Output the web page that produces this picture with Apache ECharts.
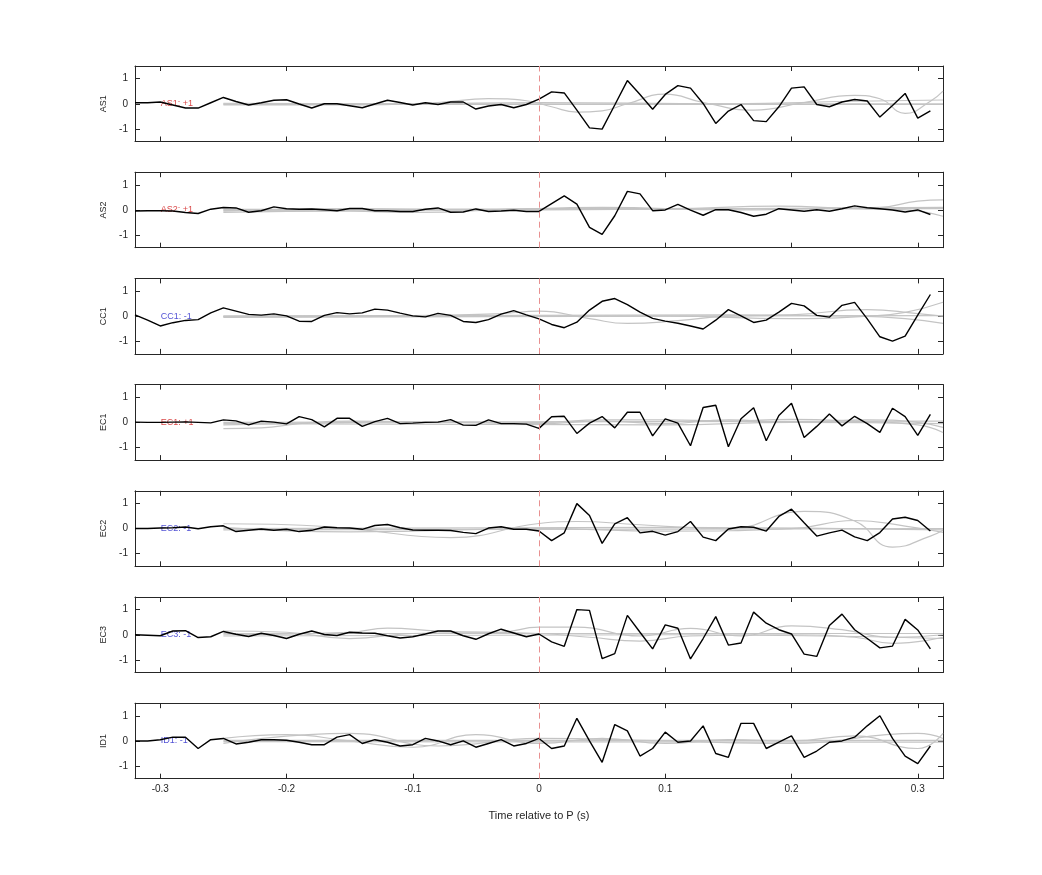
<!DOCTYPE html>
<html><head><meta charset="utf-8">
<script src="https://cdn.jsdelivr.net/npm/echarts@6/dist/echarts.min.js"></script>
<style>html,body{margin:0;padding:0;background:#fff}#c{width:1042px;height:875px}</style>
</head><body><div id="c"></div>
<script>
const times = [-0.32,-0.31,-0.30,-0.29,-0.28,-0.27,-0.26,-0.25,-0.24,-0.23,-0.22,-0.21,-0.20,-0.19,-0.18,-0.17,-0.16,-0.15,-0.14,-0.13,-0.12,-0.11,-0.10,-0.09,-0.08,-0.07,-0.06,-0.05,-0.04,-0.03,-0.02,-0.01,0,
  0.01,0.02,0.03,0.04,0.05,0.06,0.07,0.08,0.09,0.10,0.11,0.12,0.13,0.14,0.15,0.16,0.17,0.18,0.19,0.20,0.21,0.22,0.23,0.24,0.25,0.26,0.27,0.28,0.29,0.30,0.31];
const xTicks = [-0.3,-0.2,-0.1,0,0.1,0.2,0.3];
const yTicks = [-1,0,1];
const channelNames = ['AS1','AS2','CC1','EC1','EC2','EC3','ID1'];
const channelSigns = ['+1','+1','-1','+1','-1','-1','-1'];

const as1 = [0.04,0.04,0.07,-0.05,-0.17,-0.17,0.04,0.25,0.09,-0.05,0.04,0.14,0.16,-0.01,-0.17,0,0,-0.08,-0.16,-0.01,0.14,0.05,-0.05,0.04,-0.03,0.07,0.07,-0.21,-0.09,-0.03,-0.16,-0.03,0.18,
  0.47,0.43,-0.25,-0.96,-1.01,-0.05,0.92,0.37,-0.22,0.37,0.72,0.62,0.01,-0.78,-0.29,-0.03,-0.67,-0.71,-0.12,0.62,0.67,-0.03,-0.12,0.07,0.17,0.11,-0.53,-0.07,0.41,-0.57,-0.28];
const as2 = [-0.04,-0.03,-0.03,-0.04,-0.10,-0.14,0.03,0.10,0.08,-0.09,-0.03,0.12,0.05,0.03,0.04,0.01,-0.03,0.06,0.06,-0.03,-0.03,-0.06,-0.06,0.03,0.08,-0.09,-0.08,0.04,-0.06,-0.04,-0.01,-0.06,-0.06,
  0.25,0.56,0.23,-0.69,-0.97,-0.23,0.74,0.64,-0.03,0,0.22,-0.01,-0.21,0.01,0.01,-0.10,-0.25,-0.17,0.05,0,-0.05,0.01,-0.05,0.05,0.16,0.09,0.05,0,-0.08,0,-0.18];
const cc1 = [0.05,-0.16,-0.39,-0.26,-0.17,-0.14,0.13,0.33,0.2,0.07,0.04,0.09,0.01,-0.2,-0.21,0.03,0.14,0.09,0.13,0.28,0.24,0.12,0.01,-0.03,0.11,0.03,-0.21,-0.25,-0.14,0.08,0.22,0.05,-0.11,
  -0.33,-0.46,-0.24,0.24,0.59,0.70,0.46,0.16,-0.09,-0.2,-0.28,-0.39,-0.51,-0.16,0.26,0.01,-0.25,-0.16,0.16,0.51,0.41,0.03,-0.04,0.43,0.55,-0.11,-0.82,-0.99,-0.79,0.04,0.86];
const ec1 = [0.01,0,0,0.01,0.02,0,-0.02,0.1,0.06,-0.1,0.05,0.01,-0.06,0.23,0.11,-0.18,0.16,0.16,-0.16,0.03,0.16,-0.05,-0.03,0,0.01,0.11,-0.11,-0.12,0.1,-0.05,-0.05,-0.07,-0.24,
  0.22,0.24,-0.44,-0.03,0.23,-0.22,0.4,0.4,-0.54,0.14,-0.03,-0.93,0.59,0.68,-0.97,0.14,0.58,-0.73,0.27,0.76,-0.6,-0.16,0.33,-0.14,0.24,-0.05,-0.4,0.56,0.23,-0.52,0.32];
const ec2 = [0,0,0.02,0.03,0.06,-0.01,0.07,0.11,-0.12,-0.07,-0.02,-0.07,-0.03,-0.12,-0.07,0.06,0.03,0.02,-0.03,0.12,0.16,0.03,-0.06,-0.07,-0.07,-0.08,-0.15,-0.2,0.02,0.07,-0.03,-0.03,-0.1,
  -0.48,-0.17,0.99,0.52,-0.59,0.19,0.43,-0.17,-0.11,-0.26,-0.12,0.28,-0.34,-0.48,-0.02,0.07,0.05,-0.1,0.48,0.77,0.23,-0.3,-0.17,-0.06,-0.33,-0.48,-0.16,0.38,0.45,0.32,-0.1];
const ec3 = [0,-0.02,-0.04,0.15,0.16,-0.11,-0.08,0.13,0.02,-0.07,0.06,-0.03,-0.15,0.02,0.15,0.01,-0.03,0.1,0.07,0.06,-0.04,-0.13,-0.08,0.03,0.15,0.15,-0.04,-0.18,0.04,0.22,0.07,-0.08,0.03,
  -0.28,-0.46,1.0,0.97,-0.95,-0.75,0.77,0.1,-0.56,0.39,0.26,-0.96,-0.15,0.72,-0.41,-0.33,0.9,0.46,0.2,0.03,-0.77,-0.86,0.37,0.82,0.2,-0.15,-0.52,-0.45,0.61,0.19,-0.56];
const id1 = [0,0,0.05,0.15,0.15,-0.3,0.05,0.1,-0.12,-0.05,0.05,0.05,0.03,-0.05,-0.15,-0.15,0.15,0.25,-0.1,0.05,-0.05,-0.2,-0.15,0.1,0,-0.15,0,-0.25,-0.1,0.05,-0.2,-0.1,0.1,
  -0.3,-0.2,0.9,0.0,-0.85,0.65,0.4,-0.6,-0.3,0.35,-0.05,0,0.6,-0.5,-0.65,0.7,0.7,-0.3,-0.05,0.2,-0.65,-0.4,-0.05,0,0.15,0.6,1.0,0.1,-0.6,-0.9,-0.2];

// gray reference traces: [time, value] knots
const grayAS1 = [
  [[-0.25,-0.05],[-0.15,-0.05],[-0.08,0.05],[-0.04,0.2],[-0.01,0.12],[0.01,-0.12],[0.03,-0.33],[0.05,-0.28],[0.07,0.0],[0.10,0.38],[0.13,0.05],[0.17,-0.25],[0.21,0.05],[0.25,0.33],[0.27,0.2],[0.29,-0.38],[0.31,0.1],[0.32,0.5]],
  [[-0.25,-0.03],[0.32,-0.03]],
  [[-0.25,0.02],[-0.1,0.0],[0.0,0.05],[0.15,0.0],[0.25,0.1],[0.32,0.15]],
  [[-0.25,0.0],[0.32,0.0]]];
const grayAS2 = [
  [[-0.25,-0.05],[-0.15,0.05],[-0.05,0.0],[0.05,0.1],[0.15,0.0],[0.22,0.05],[0.27,0.1],[0.30,0.35],[0.32,0.4]],
  [[-0.25,-0.1],[-0.15,-0.05],[-0.1,-0.1],[0.0,0.05],[0.1,0.05],[0.19,0.15],[0.25,0.05],[0.29,0.0],[0.32,-0.25]],
  [[-0.25,0.02],[0.32,0.05]],
  [[-0.25,-0.02],[0.0,0.0],[0.32,0.1]]];
const grayCC1 = [
  [[-0.25,0.0],[-0.1,0.02],[-0.03,0.1],[0.0,0.2],[0.04,-0.1],[0.07,-0.29],[0.11,-0.18],[0.15,0.0],[0.2,0.05],[0.26,0.26],[0.3,0.1],[0.32,0.0]],
  [[-0.25,-0.05],[0.1,0.0],[0.2,-0.1],[0.26,0.0],[0.29,0.15],[0.32,0.55]],
  [[-0.25,0.0],[0.15,0.05],[0.25,0.0],[0.29,-0.1],[0.32,-0.29]],
  [[-0.25,-0.02],[0.32,0.02]]];
const grayEC1 = [
  [[-0.25,-0.25],[-0.22,-0.22],[-0.19,-0.05],[-0.15,0.05],[-0.1,0.02],[0.0,0.0],[0.05,0.1],[0.1,0.1],[0.15,0.05],[0.2,0.12],[0.25,0.05],[0.3,-0.1],[0.32,-0.4]],
  [[-0.25,-0.1],[-0.2,-0.05],[-0.1,0.02],[0.0,-0.05],[0.05,0.05],[0.1,-0.05],[0.15,0.1],[0.2,0.0],[0.26,0.1],[0.3,0.0],[0.32,-0.2]],
  [[-0.25,0.0],[0.32,0.05]],
  [[-0.25,-0.05],[0.1,-0.1],[0.2,0.0],[0.32,-0.05]]];
const grayEC2 = [
  [[-0.25,0.19],[-0.21,0.17],[-0.15,0.0],[-0.07,-0.36],[0.0,0.2],[0.03,0.28],[0.08,0.15],[0.15,0.0],[0.21,0.68],[0.25,0.3],[0.28,-0.74],[0.31,-0.3],[0.32,-0.07]],
  [[-0.25,0.05],[-0.15,-0.13],[-0.1,-0.1],[0.0,0.0],[0.1,-0.1],[0.2,0.0],[0.25,0.32],[0.29,0.1],[0.32,-0.15]],
  [[-0.25,-0.05],[0.32,0.0]],
  [[-0.25,0.0],[0.1,0.05],[0.32,-0.05]]];
const grayEC3 = [
  [[-0.25,0.15],[-0.2,0.1],[-0.15,-0.15],[-0.1,0.05],[-0.03,0.1],[0.0,0.3],[0.03,0.3],[0.08,-0.05],[0.12,0.25],[0.16,-0.05],[0.2,0.35],[0.24,0.2],[0.28,-0.1],[0.32,0.0]],
  [[-0.25,0.0],[-0.15,0.1],[-0.12,0.26],[-0.08,0.15],[0.0,0.05],[0.04,-0.1],[0.08,-0.25],[0.12,-0.05],[0.2,0.0],[0.25,-0.1],[0.28,-0.34],[0.32,-0.1]],
  [[-0.25,0.05],[0.32,0.05]],
  [[-0.25,-0.05],[0.1,0.0],[0.32,-0.15]]];
const grayID1 = [
  [[-0.25,0.1],[-0.2,0.25],[-0.15,0.0],[-0.1,-0.25],[-0.05,0.25],[0.0,-0.1],[0.05,0.1],[0.1,-0.1],[0.15,0.05],[0.2,0.0],[0.25,0.2],[0.3,-0.3],[0.32,0.3]],
  [[-0.25,-0.1],[-0.15,0.3],[-0.08,-0.2],[0.0,0.1],[0.1,0.0],[0.2,-0.1],[0.3,0.3],[0.32,0.1]],
  [[-0.25,0.02],[0.32,0.02]],
  [[-0.25,-0.03],[0.32,-0.05]]];

const blackData = [as1, as2, cc1, ec1, ec2, ec3, id1];
const grayData = [grayAS1, grayAS2, grayCC1, grayEC1, grayEC2, grayEC3, grayID1];

const FONT = '"Liberation Sans", Arial, Helvetica, sans-serif';
const AX = '#262626';
const grids = [], xAxes = [], yAxes = [], series = [];
const top0 = 66, step = 106.2, h = 75.5;

channelNames.forEach((name, i) => {
  const last = i === channelNames.length - 1;
  grids.push({left: 135, right: 99, top: top0 + i * step, height: h});
  const xBase = {type: 'value', gridIndex: i, min: -0.32, max: 0.32, splitLine: {show: false},
    axisLine: {show: true, onZero: false, lineStyle: {color: AX, width: 1}},
    axisTick: {show: true, inside: true, length: 5, customValues: xTicks, lineStyle: {color: AX}}};
  xAxes.push(Object.assign({}, xBase, {position: 'bottom',
    axisLabel: {show: last, customValues: xTicks, color: AX, fontSize: 10, fontFamily: FONT, margin: 6},
    name: last ? 'Time relative to P (s)' : '', nameLocation: 'middle', nameGap: 32,
    nameTextStyle: {color: AX, fontSize: 11, fontFamily: FONT}}));
  xAxes.push(Object.assign({}, xBase, {position: 'top', axisLabel: {show: false}}));
  const yBase = {type: 'value', gridIndex: i, min: -1.5, max: 1.5, splitLine: {show: false},
    axisLine: {show: true, onZero: false, lineStyle: {color: AX, width: 1}},
    axisTick: {show: true, inside: true, length: 5, customValues: yTicks, lineStyle: {color: AX}}};
  yAxes.push(Object.assign({}, yBase, {position: 'left',
    axisLabel: {show: true, customValues: yTicks, color: AX, fontSize: 10, fontFamily: FONT, margin: 7},
    name: name, nameLocation: 'middle', nameGap: 27, nameRotate: 90,
    nameTextStyle: {color: AX, fontSize: 9, fontFamily: FONT}}));
  yAxes.push(Object.assign({}, yBase, {position: 'right', axisLabel: {show: false}}));

  grayData[i].forEach(g => {
    series.push({type: 'line', xAxisIndex: 2 * i, yAxisIndex: 2 * i, data: g, smooth: 0.5,
      showSymbol: false, symbol: 'none', lineStyle: {color: '#c4c4c4', width: 1.2}, z: 2, silent: true});
  });
  const pos = channelSigns[i] === '+1';
  series.push({type: 'scatter', xAxisIndex: 2 * i, yAxisIndex: 2 * i, data: [[-0.3, 0]],
    symbolSize: 1, itemStyle: {color: 'rgba(0,0,0,0)'}, z: 3, silent: true,
    label: {show: true, position: 'right', distance: 0, formatter: name + ': ' + channelSigns[i],
      color: pos ? '#d01818' : '#1f1fc8', fontSize: 9, fontFamily: FONT}});
  series.push({type: 'line', xAxisIndex: 2 * i, yAxisIndex: 2 * i,
    data: times.map((t, k) => [t, blackData[i][k]]), showSymbol: false, symbol: 'none',
    lineStyle: {color: '#000', width: 1.4}, z: 4, silent: true,
    markLine: {silent: true, symbol: 'none', label: {show: false},
      lineStyle: {color: '#e89090', type: [6, 4], width: 1}, data: [{xAxis: 0}]}});
});

const chart = echarts.init(document.getElementById('c'));
chart.setOption({animation: false, backgroundColor: '#fff', grid: grids, xAxis: xAxes, yAxis: yAxes, series: series});
</script>
</body></html>
